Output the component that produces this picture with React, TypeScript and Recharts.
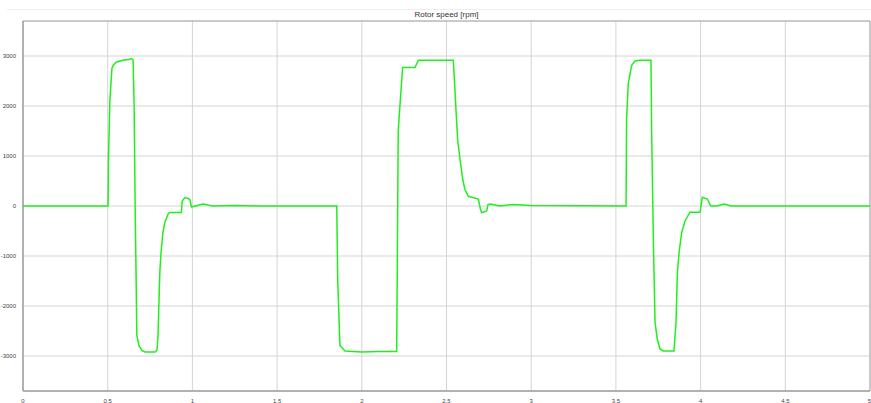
import React from "react";
import { LineChart, Line, XAxis, YAxis, CartesianGrid, ReferenceArea } from "recharts";

const timeSec = [
  0, 0.502, 0.505, 0.513, 0.525, 0.533, 0.552, 0.59, 0.625, 0.64, 0.65, 0.656, 0.662, 0.668, 0.672, 0.685, 0.702, 0.72, 0.78,
  0.791, 0.797, 0.803, 0.808, 0.815, 0.826, 0.837, 0.844, 0.858, 0.868, 0.935, 0.94, 0.956, 0.975, 0.985, 0.995, 1.063, 1.122,
  1.26, 1.4, 1.852, 1.858, 1.871, 1.901, 2.0, 2.1, 2.206, 2.21, 2.215, 2.225, 2.241, 2.314, 2.334, 2.54, 2.55, 2.556, 2.566,
  2.58, 2.596, 2.609, 2.629, 2.688, 2.7, 2.708, 2.737, 2.745, 2.757, 2.816, 2.894, 3.0, 3.56, 3.563, 3.573, 3.593, 3.613, 3.64,
  3.707, 3.711, 3.721, 3.731, 3.744, 3.76, 3.78, 3.843, 3.855, 3.863, 3.873, 3.888, 3.908, 3.937, 3.997, 4.01, 4.04, 4.06,
  4.095, 4.14, 4.18, 5,
];

const rotorSpeed = [
  0, 0, 1000, 2120, 2750, 2815, 2880, 2915, 2930, 2950, 2920, 2000, 0, -1500, -2590, -2800, -2890, -2920, -2920,
  -2880, -2600, -1860, -1300, -925, -530, -330, -270, -150, -130, -130, 100, 170, 150, 130, -20, 40, 0,
  10, 0, 0, -1500, -2790, -2900, -2920, -2910, -2910, -1000, 1500, 2000, 2770, 2770, 2915, 2915, 2320, 1920, 1320,
  930, 530, 330, 195, 140, -60, -135, -100, 30, 40, 0, 30, 10, 0, 1720, 2450, 2815, 2900, 2915,
  2915, 1500, -670, -2320, -2660, -2860, -2900, -2900, -2320, -1330, -930, -535, -300, -125, -125, 175, 140, 0,
  0, 40, 0, 0,
];

const xTicks = [0, 0.5, 1, 1.5, 2, 2.5, 3, 3.5, 4, 4.5, 5];
const yTicks = [-3000, -2000, -1000, 0, 1000, 2000, 3000];
const chartTitle = "Rotor speed [rpm]";

const data = timeSec.map((t, i) => ({ t, v: rotorSpeed[i] }));

const tickStyle = { fontSize: 6, fill: "#444", fontFamily: "Liberation Sans, Arial, sans-serif" };

export default function App() {
  return (
    <div style={{ position: "absolute", left: 0, top: 0, width: 871, height: 403, background: "#fff" }}>
      <div
        style={{
          position: "absolute",
          left: 7,
          top: 9,
          width: 864,
          height: 0,
          borderTop: "1px solid #eeeeee",
        }}
      />
      <div
        style={{
          position: "absolute",
          left: 23,
          width: 847,
          top: 10,
          textAlign: "center",
          fontSize: 8,
          color: "#333",
          fontFamily: "Liberation Sans, Arial, sans-serif",
          lineHeight: "10px",
        }}
      >
        {chartTitle}
      </div>
      <LineChart width={871} height={403} data={data} margin={{ top: 21, right: 1, bottom: 0, left: 0 }}>
        <CartesianGrid stroke="#d4d4d4" strokeWidth={1} />
        <XAxis
          dataKey="t"
          type="number"
          domain={[0, 5]}
          ticks={xTicks}
          height={12}
          tick={tickStyle}
          tickLine={false}
          axisLine={{ stroke: "#999" }}
          tickMargin={2}
          allowDataOverflow
        />
        <YAxis
          type="number"
          domain={[-3700, 3700]}
          ticks={yTicks}
          width={23}
          tick={tickStyle}
          tickLine={false}
          axisLine={{ stroke: "#999" }}
          tickMargin={1}
          allowDataOverflow
        />
        <ReferenceArea x1={0} x2={5} y1={-3700} y2={3700} fill="none" stroke="#aaa" strokeWidth={1} />
        <Line
          type="linear"
          dataKey="v"
          stroke="#1ef01e"
          strokeWidth={1.5}
          dot={false}
          isAnimationActive={false}
        />
      </LineChart>
    </div>
  );
}
